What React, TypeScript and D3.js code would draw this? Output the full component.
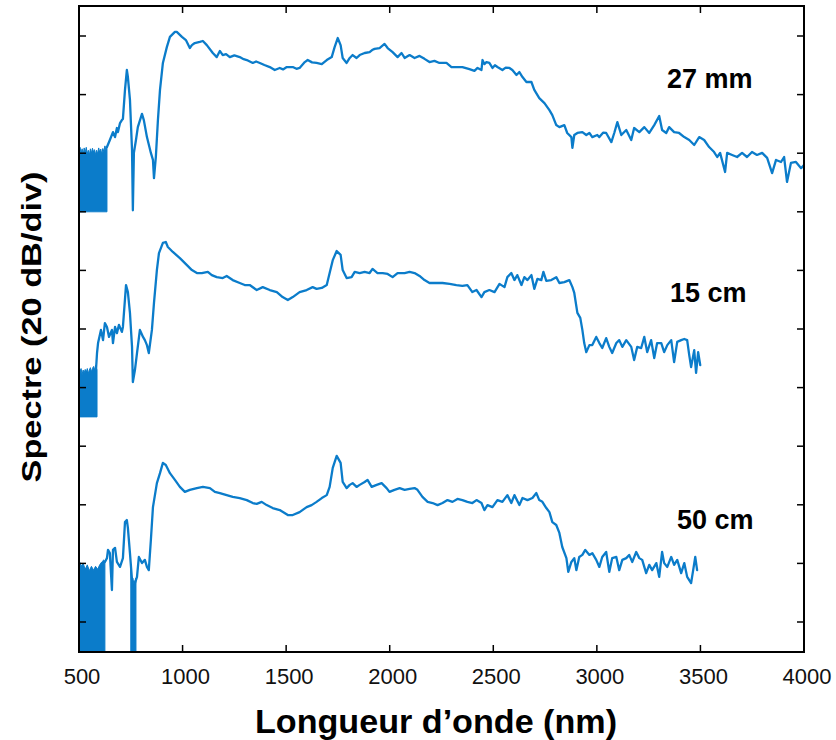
import React from "react";
import * as d3 from "d3";

// ---------- data (wavelength nm, level dB) ----------
const xTicks = [500, 1000, 1500, 2000, 2500, 3000, 3500, 4000];
const yTicks = [0, -20, -40, -60, -80, -100, -120, -140, -160, -180, -200];
const seriesNames = ["27 mm", "15 cm", "50 cm"];

const trace27mm: [number, number][] = [
  [635,-37.9],[649,-35.5],[664,-32.8],[674,-34.5],[683,-31.4],[688,-32.8],[698,-29.7],[707,-28.7],[712,-28.3],
  [722,-18.4],[731,-11.6],[736,-14.0],[746,-21.8],[756,-38.9],[760,-59.5],[765,-39.9],[775,-35.5],[784,-31.1],
  [804,-26.6],[813,-28.7],[828,-34.5],[847,-39.9],[857,-42.3],[862,-48.5],[871,-41.3],[881,-28.7],[891,-18.4],
  [905,-9.2],[924,-3.8],[939,-0.3],[963,1.4],[972,1.4],[997,-0.3],[1016,-1.4],[1035,-4.1],[1045,-3.1],[1059,-2.4],
  [1083,-2.0],[1098,-1.7],[1117,-3.1],[1146,-5.8],[1165,-7.2],[1180,-5.1],[1194,-6.5],[1210,-6.2],[1228,-7.2],
  [1250,-6.6],[1276,-7.2],[1295,-7.9],[1310,-8.2],[1339,-9.2],[1355,-8.7],[1373,-9.2],[1395,-9.9],[1421,-10.6],
  [1445,-11.6],[1469,-10.9],[1485,-11.4],[1503,-10.6],[1532,-10.6],[1550,-11.2],[1565,-10.9],[1590,-8.9],[1604,-8.2],
  [1625,-9.0],[1647,-9.2],[1672,-9.6],[1696,-8.2],[1720,-7.2],[1734,-3.8],[1749,-0.7],[1763,-3.1],[1773,-7.5],
  [1792,-9.2],[1807,-7.5],[1821,-6.5],[1840,-7.5],[1855,-6.5],[1879,-5.8],[1903,-5.5],[1915,-4.8],[1927,-4.4],
  [1951,-4.1],[1975,-2.7],[1990,-4.1],[2014,-5.5],[2038,-7.2],[2057,-5.8],[2072,-7.5],[2096,-6.5],[2120,-7.5],
  [2144,-6.8],[2168,-7.8],[2192,-8.9],[2216,-8.5],[2240,-9.2],[2274,-9.2],[2298,-10.6],[2322,-10.6],[2351,-10.6],
  [2385,-11.3],[2409,-11.9],[2424,-10.9],[2443,-11.6],[2448,-8.2],[2457,-9.6],[2467,-8.9],[2481,-9.2],[2496,-10.9],
  [2508,-10.0],[2520,-10.6],[2544,-11.6],[2560,-10.8],[2578,-10.9],[2592,-11.6],[2612,-13.3],[2626,-12.3],[2641,-14.0],
  [2660,-15.7],[2684,-15.7],[2698,-18.4],[2722,-21.2],[2747,-22.9],[2771,-25.3],[2785,-27.0],[2804,-30.4],[2819,-31.1],
  [2843,-30.4],[2857,-33.1],[2877,-34.5],[2882,-38.2],[2891,-33.8],[2906,-33.1],[2930,-32.8],[2949,-33.8],[2964,-33.1],
  [2978,-34.5],[3002,-33.8],[3012,-34.5],[3030,-33.0],[3045,-33.1],[3070,-36.2],[3084,-33.1],[3099,-29.4],[3118,-33.8],
  [3142,-32.1],[3166,-35.5],[3180,-31.4],[3205,-32.8],[3229,-31.1],[3253,-33.1],[3277,-30.4],[3301,-27.3],[3315,-32.1],
  [3335,-33.1],[3349,-31.1],[3373,-32.8],[3397,-33.1],[3422,-34.5],[3446,-35.5],[3470,-37.2],[3494,-34.5],[3518,-35.5],
  [3542,-37.9],[3566,-39.6],[3581,-41.3],[3595,-39.9],[3619,-46.4],[3629,-39.9],[3653,-40.6],[3677,-41.3],[3701,-39.9],
  [3725,-41.3],[3749,-39.6],[3773,-40.6],[3798,-39.9],[3822,-41.6],[3846,-46.8],[3865,-42.3],[3889,-43.0],[3904,-41.3],
  [3918,-49.8],[3937,-43.3],[3961,-43.0],[3986,-45.1],[4000,-44.0],
];

const trace15cm: [number, number][] = [
  [582,-114.0],[587,-108.2],[592,-104.8],[606,-100.3],[616,-103.8],[625,-98.0],[635,-99.3],[645,-102.7],[659,-100.3],
  [664,-104.8],[674,-99.3],[683,-101.4],[693,-98.6],[707,-101.0],[712,-99.3],[727,-85.0],[736,-87.4],[746,-94.5],
  [756,-106.1],[760,-118.1],[770,-114.0],[780,-108.2],[794,-100.3],[809,-102.7],[818,-103.8],[828,-105.5],[837,-108.2],
  [852,-100.3],[862,-91.1],[876,-79.9],[886,-74.1],[905,-70.6],[919,-70.3],[929,-72.0],[953,-73.7],[987,-75.8],
  [1021,-78.2],[1045,-79.9],[1069,-80.9],[1093,-80.9],[1122,-80.5],[1141,-81.6],[1165,-82.3],[1194,-82.6],[1213,-81.9],
  [1242,-83.3],[1276,-84.3],[1300,-85.0],[1324,-85.0],[1358,-86.7],[1387,-85.7],[1421,-86.7],[1455,-87.4],[1483,-89.1],
  [1508,-90.1],[1532,-89.1],[1565,-87.4],[1599,-86.7],[1628,-85.7],[1647,-86.3],[1672,-86.0],[1696,-85.0],[1710,-80.9],
  [1725,-76.5],[1744,-73.4],[1763,-74.7],[1773,-79.9],[1792,-82.6],[1816,-82.3],[1831,-80.5],[1855,-80.9],[1879,-80.5],
  [1903,-80.9],[1917,-79.5],[1941,-80.9],[1966,-80.9],[1990,-81.2],[2014,-82.3],[2038,-80.9],[2072,-80.9],[2096,-80.5],
  [2120,-80.9],[2144,-81.9],[2168,-83.3],[2192,-84.3],[2226,-84.3],[2255,-84.3],[2289,-84.6],[2322,-85.0],[2351,-85.3],
  [2375,-85.0],[2399,-87.4],[2419,-86.7],[2443,-89.1],[2457,-87.4],[2481,-86.7],[2506,-87.4],[2530,-84.6],[2554,-85.7],
  [2568,-82.3],[2587,-80.9],[2602,-83.3],[2616,-81.6],[2636,-85.0],[2650,-82.3],[2665,-83.3],[2684,-81.6],[2698,-86.3],
  [2713,-82.9],[2732,-83.3],[2742,-80.5],[2756,-83.6],[2780,-83.3],[2804,-82.3],[2819,-84.3],[2843,-84.0],[2867,-83.3],
  [2882,-85.7],[2891,-87.7],[2906,-94.5],[2920,-96.2],[2930,-100.3],[2939,-104.8],[2949,-107.9],[2964,-105.5],
  [2978,-105.5],[2997,-102.7],[3012,-104.8],[3026,-106.5],[3045,-103.1],[3060,-106.1],[3074,-108.2],[3094,-104.8],
  [3108,-103.8],[3123,-106.1],[3142,-103.8],[3166,-106.1],[3180,-110.6],[3195,-106.1],[3214,-106.5],[3229,-102.7],
  [3243,-107.9],[3262,-103.8],[3277,-109.9],[3291,-104.8],[3311,-104.8],[3325,-107.9],[3340,-105.5],[3359,-103.8],
  [3373,-111.3],[3388,-104.4],[3407,-103.8],[3422,-103.4],[3436,-103.8],[3446,-108.9],[3455,-113.0],[3470,-107.2],
  [3479,-115.0],[3489,-107.9],[3499,-112.3],
];

const trace50cm: [number, number][] = [
  [625,-179.5],[635,-178.2],[640,-175.4],[649,-176.5],[659,-189.1],[664,-175.4],[674,-174.7],[683,-179.5],[698,-181.2],
  [712,-178.2],[722,-165.9],[731,-165.2],[736,-167.9],[746,-176.5],[756,-185.7],[760,-212],[770,-186.7],[780,-184.6],
  [789,-177.8],[804,-179.9],[818,-178.8],[828,-181.2],[837,-182.3],[847,-172.0],[857,-160.8],[876,-152.6],[891,-149.2],
  [905,-145.7],[919,-146.4],[939,-149.2],[963,-151.5],[987,-153.9],[1011,-155.6],[1035,-154.9],[1069,-154.3],
  [1098,-153.9],[1132,-154.3],[1156,-155.6],[1180,-156.0],[1213,-156.7],[1242,-157.3],[1276,-157.7],[1310,-158.4],
  [1339,-159.4],[1358,-159.7],[1382,-159.0],[1406,-160.1],[1435,-161.1],[1469,-161.8],[1508,-163.5],[1532,-163.5],
  [1565,-162.5],[1599,-160.8],[1623,-160.1],[1647,-159.0],[1672,-157.7],[1696,-156.7],[1710,-153.9],[1725,-147.4],
  [1744,-143.3],[1763,-145.7],[1773,-152.2],[1792,-154.3],[1807,-153.2],[1821,-152.6],[1840,-153.9],[1855,-153.2],
  [1879,-152.2],[1893,-151.5],[1913,-153.9],[1937,-153.2],[1961,-152.6],[1985,-154.3],[1999,-155.6],[2023,-154.9],
  [2048,-154.3],[2072,-154.9],[2096,-154.6],[2120,-154.3],[2134,-154.9],[2158,-157.3],[2183,-159.0],[2207,-159.4],
  [2231,-160.1],[2255,-159.4],[2279,-158.4],[2303,-159.0],[2327,-158.0],[2351,-158.4],[2375,-159.0],[2399,-159.4],
  [2419,-158.4],[2443,-159.4],[2457,-161.8],[2472,-160.1],[2496,-160.8],[2520,-158.4],[2544,-159.0],[2568,-156.7],
  [2587,-159.4],[2602,-156.7],[2626,-160.1],[2641,-157.7],[2665,-158.4],[2689,-157.7],[2708,-156.0],[2722,-158.4],
  [2737,-159.0],[2756,-161.1],[2771,-162.5],[2785,-165.9],[2804,-166.9],[2819,-169.6],[2833,-174.4],[2853,-178.2],
  [2862,-182.9],[2877,-179.5],[2891,-178.2],[2901,-182.3],[2915,-177.8],[2930,-177.1],[2944,-175.4],[2964,-177.1],
  [2978,-176.5],[2997,-178.8],[3012,-181.2],[3026,-177.8],[3045,-176.1],[3060,-182.9],[3074,-178.2],[3094,-177.8],
  [3108,-182.3],[3123,-178.8],[3142,-178.2],[3156,-177.1],[3171,-179.5],[3190,-176.1],[3205,-178.2],[3219,-178.8],
  [3238,-183.3],[3253,-180.5],[3267,-182.3],[3287,-179.9],[3301,-184.6],[3315,-176.1],[3325,-179.9],[3340,-181.2],
  [3359,-177.8],[3373,-180.5],[3388,-178.8],[3407,-183.3],[3422,-179.9],[3436,-184.6],[3455,-186.7],[3465,-182.3],
  [3475,-177.8],[3484,-182.3],
];

// noise-floor blocks: top edge of the dense noise, and the floor it reaches
const noise27mm: [number, number][] = [
  [500,-39.5],[505,-38],[510,-40],[515,-38.5],[520,-40.5],[525,-38.2],[530,-39.8],[535,-38],[540,-40.2],[545,-39],
  [550,-40.6],[555,-38.5],[560,-40],[565,-38.3],[570,-39.6],[575,-38.8],[580,-40.5],[585,-39],[590,-40.2],[595,-38.2],
  [600,-39.7],[605,-38.6],[610,-40.4],[615,-38.4],[620,-39.5],[625,-37.5],[630,-38.8],[635,-37.9],
];
const floor27mm = -60;
const noise15cm: [number, number][] = [
  [500,-113],[505,-114.5],[510,-113.5],[515,-115.5],[520,-114],[525,-115],[530,-113.8],[535,-114.8],[540,-113.5],
  [545,-115.2],[550,-114],[555,-113.2],[560,-114.6],[565,-113.5],[570,-112.8],[575,-114],[580,-112.3],[587,-114],
];
const floor15cm = -130;
const noise50cmA: [number, number][] = [
  [500,-178.8],[510,-181],[520,-180],[530,-182],[540,-180.5],[550,-182.5],[560,-181],[570,-182.3],[580,-181],
  [590,-182],[600,-180.5],[610,-179.5],[620,-178.8],[625,-179.5],
];
const noise50cmB: [number, number][] = [
  [750,-182],[755,-186],[760,-185],[765,-187],[770,-186],[775,-185],
];
const floor50cm = -215;

// ---------- layout ----------
const W = 836, H = 740;
const PL = 79, PR = 804, PT = 6, PB = 652;
const BLUE = "#0b7cca";
const TICK = 7;

export default function App() {
  const x = d3.scaleLinear().domain([500, 4000]).range([PL, PR]);
  const y = d3.scaleLinear().domain([-210.24, 10.24]).range([PB, PT]);

  const line = d3.line<[number, number]>().x(d => x(d[0])).y(d => y(d[1]));
  const area = (floor: number) =>
    d3.area<[number, number]>().x(d => x(d[0])).y0(y(floor)).y1(d => y(d[1]));

  const traces = [trace27mm, trace15cm, trace50cm];
  const noises: [[number, number][], number][] = [
    [noise27mm, floor27mm], [noise15cm, floor15cm], [noise50cmA, floor50cm], [noise50cmB, floor50cm],
  ];
  const labelPos = [
    { x: 667, y: 88 }, { x: 670, y: 302 }, { x: 677, y: 529 },
  ];

  return (
    <svg width={W} height={H} style={{ position: "absolute", left: 0, top: 0, background: "#fff" }}
      fontFamily="'Liberation Sans', Arial, sans-serif">
      <defs>
        <clipPath id="plot"><rect x={PL} y={PT} width={PR - PL} height={PB - PT} /></clipPath>
      </defs>
      <rect x={0} y={0} width={W} height={H} fill="#fff" />
      <g clipPath="url(#plot)">
        {noises.map(([d, f], i) => (
          <path key={"n" + i} d={area(f)(d) || ""} fill={BLUE} stroke={BLUE} strokeWidth={1} />
        ))}
        {traces.map((t, i) => (
          <path key={"t" + i} d={line(t) || ""} fill="none" stroke={BLUE} strokeWidth={2.3}
            strokeLinejoin="round" strokeLinecap="round" />
        ))}
      </g>
      {/* ticks */}
      {xTicks.map(t => (
        <g key={"xt" + t}>
          <line x1={x(t)} x2={x(t)} y1={PB} y2={PB - TICK} stroke="#000" strokeWidth={1.5} />
          <line x1={x(t)} x2={x(t)} y1={PT} y2={PT + TICK} stroke="#000" strokeWidth={1.5} />
          <text x={x(t) + 3} y={684} fontSize={22} textAnchor="middle" fill="#111">{t}</text>
        </g>
      ))}
      {yTicks.map(t => (
        <g key={"yt" + t}>
          <line x1={PL} x2={PL + TICK} y1={y(t)} y2={y(t)} stroke="#000" strokeWidth={1.5} />
          <line x1={PR} x2={PR - TICK} y1={y(t)} y2={y(t)} stroke="#000" strokeWidth={1.5} />
        </g>
      ))}
      <rect x={PL} y={PT} width={PR - PL} height={PB - PT} fill="none" stroke="#000" strokeWidth={2} />
      {seriesNames.map((s, i) => (
        <text key={s} x={labelPos[i].x} y={labelPos[i].y} fontSize={27} fontWeight="bold" fill="#000">{s}</text>
      ))}
      <text x={255} y={733} fontSize={34} fontWeight="bold" textLength={362} lengthAdjust="spacingAndGlyphs" fill="#000">
        Longueur d’onde (nm)
      </text>
      <text transform="translate(41,327) rotate(-90)" textAnchor="middle" fontSize={28} fontWeight="bold"
        textLength={311} lengthAdjust="spacingAndGlyphs" fill="#000">
        Spectre (20 dB/div)
      </text>
    </svg>
  );
}
